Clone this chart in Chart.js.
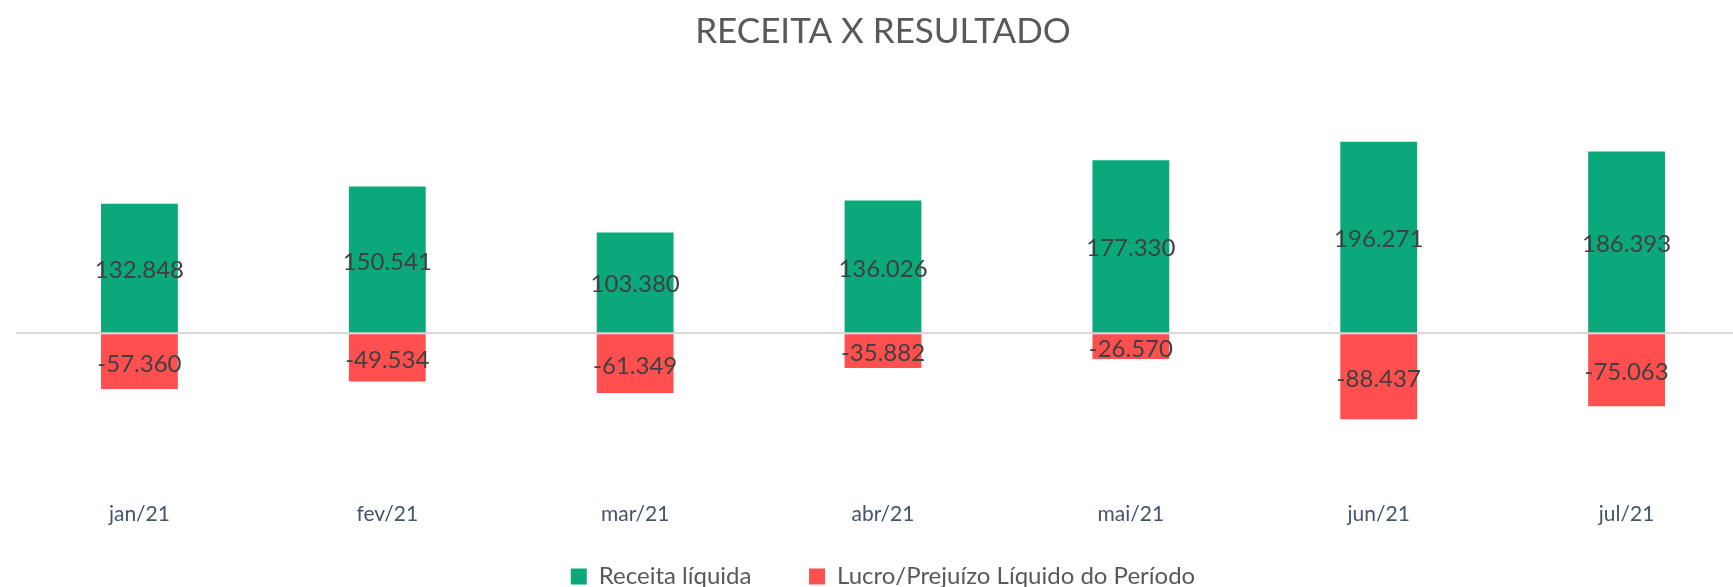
<!DOCTYPE html>
<html>
<head>
<meta charset="utf-8">
<script src="https://cdn.jsdelivr.net/npm/chart.js@4/dist/chart.umd.min.js"></script>
<style>
  html, body { margin: 0; padding: 0; overflow: hidden; background: #fff; }
</style>
</head>
<body>
<canvas id="myChart" width="1768" height="587"></canvas>
<script>
// months shown on the x axis
var meses = ['jan/21', 'fev/21', 'mar/21', 'abr/21', 'mai/21', 'jun/21', 'jul/21']
// net revenue per month
var receita = [132848, 150541, 103380, 136026, 177330, 196271, 186393]
// profit / loss per month
var resultado = [-57360, -49534, -61349, -35882, -26570, -88437, -75063]

// 132848 -> "132.848"
function fmt(v){
    var s = String(Math.abs(v)).replace(/\B(?=(\d{3})+(?!\d))/g, '.')
    return (v < 0 ? '-' : '') + s
}

// writes the value in the middle of each bar
var valueLabels = {
    id: 'valueLabels',
    afterDatasetsDraw(chart){
        var ctx = chart.ctx
        ctx.save()
        ctx.font = '24px Lato'
        ctx.fillStyle = '#404040'
        ctx.textAlign = 'center'
        ctx.textBaseline = 'middle'
        chart.data.datasets.forEach(function(ds, i){
            var meta = chart.getDatasetMeta(i)
            meta.data.forEach(function(bar, j){
                var y = (bar.y + bar.base) / 2 + 2.5
                ctx.fillText(fmt(ds.data[j]), bar.x, y)
            })
        })
        ctx.restore()
    }
}

const ctx = document.getElementById('myChart');
new Chart(ctx, {
    type: 'bar',
    data: {
        labels: meses,
        datasets: [{
            label: 'Receita líquida',
            data: receita,
            backgroundColor: '#0ba87b',
            borderWidth: 0
        }, {
            label: 'Lucro/Prejuízo Líquido do Período',
            data: resultado,
            backgroundColor: '#ff4f4f',
            borderWidth: 0
        }]
    },
    options: {
        responsive: false,
        animation: false,
        layout: {
            padding: { left: 15.5, right: 17.5, top: 0, bottom: -11.5 }
        },
        datasets: {
            bar: { categoryPercentage: 0.31, barPercentage: 1 }
        },
        plugins: {
            title: {
                display: true,
                text: 'RECEITA X RESULTADO',
                color: '#595959',
                font: { family: 'Lato', size: 35, weight: 'normal' },
                padding: { top: 11, bottom: 36.5 }
            },
            legend: {
                position: 'bottom',
                labels: {
                    boxWidth: 16,
                    boxHeight: 16,
                    padding: 33,
                    color: '#595959',
                    font: { family: 'Lato', size: 24 },
                    generateLabels: function(chart){
                        var items = Chart.defaults.plugins.legend.labels.generateLabels(chart)
                        // a little more room between the two entries
                        items[0].text = items[0].text + '    '
                        return items
                    }
                }
            },
            tooltip: { enabled: false }
        },
        scales: {
            x: {
                stacked: true,
                grid: { display: false, drawTicks: false },
                border: { display: false },
                ticks: {
                    color: '#44546a',
                    font: { family: 'Lato', size: 21 },
                    padding: 22,
                    maxRotation: 0
                },
                // let the month labels hang into the legend's spare room
                afterFit: function(axis){ axis.height -= 17 }
            },
            y: {
                stacked: true,
                min: -150000,
                max: 250000,
                border: { display: false },
                grid: {
                    drawTicks: false,
                    lineWidth: 2,
                    color: function(c){ return c.tick && c.tick.value === 0 ? '#d9d9d9' : 'rgba(0,0,0,0)' }
                },
                ticks: { display: false, stepSize: 50000 }
            }
        }
    },
    plugins: [valueLabels]
});
</script>
</body>
</html>
